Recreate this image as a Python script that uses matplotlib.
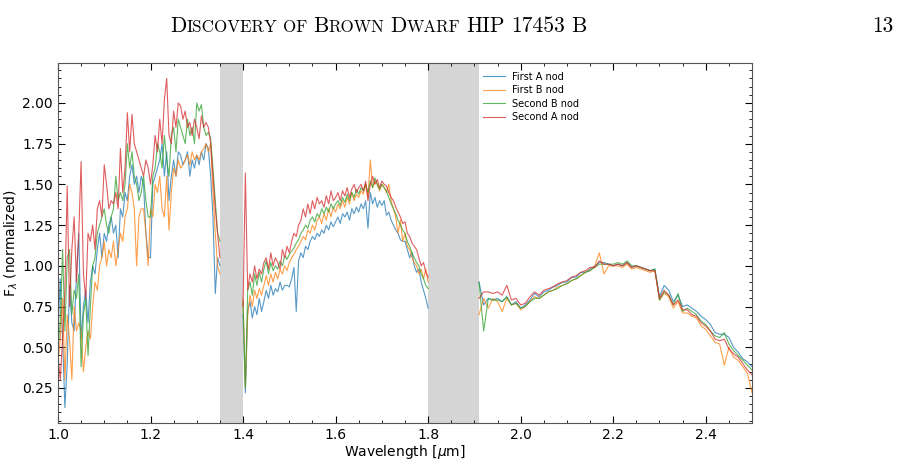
import numpy as np
import matplotlib
matplotlib.use("Agg")
import matplotlib.pyplot as plt
from matplotlib.ticker import AutoMinorLocator, MultipleLocator

# wavelength grids of the three bands (um)
wl_j = np.linspace(1.00, 1.35, 71)
wl_h = np.linspace(1.40, 1.80, 81)
wl_k = np.linspace(1.91, 2.50, 60)

labels = ["First A nod", "First B nod", "Second B nod", "Second A nod"]
gaps = [(1.35, 1.40), (1.80, 1.91)]

# J band
first_a_j = [0.60, 0.92, 0.55, 0.13, 0.40, 0.88, 0.65, 0.60, 0.95, 1.20,
             0.55, 0.75, 0.85, 0.65, 0.90, 1.00, 0.95, 1.10, 1.20, 1.05,
             1.20, 1.15, 1.25, 1.30, 1.20, 1.25, 1.05, 1.35, 1.30, 1.45,
             1.40, 1.55, 1.62, 1.50, 1.55, 1.45, 1.55, 1.50, 1.20, 1.05,
             1.05, 1.50, 1.55, 1.60, 1.65, 1.75, 1.55, 1.70, 1.40, 1.55,
             1.65, 1.55, 1.70, 1.68, 1.62, 1.65, 1.70, 1.55, 1.65, 1.60,
             1.68, 1.62, 1.70, 1.65, 1.75, 1.72, 1.55, 1.30, 0.83, 1.05,
             1.00]
first_b_j = [0.40, 0.55, 0.80, 0.30, 0.70, 0.55, 0.30, 0.75, 0.60, 0.65,
             0.60, 0.35, 0.50, 0.60, 0.55, 0.75, 0.90, 0.85, 1.00, 1.05,
             1.15, 1.00, 1.10, 1.05, 1.15, 1.00, 1.10, 1.20, 1.15, 1.30,
             1.35, 1.50, 1.45, 1.35, 1.00, 1.30, 1.35, 1.35, 1.20, 1.00,
             1.35, 1.30, 1.50, 1.45, 1.55, 1.35, 1.30, 1.55, 1.22, 1.45,
             1.60, 1.55, 1.65, 1.60, 1.62, 1.65, 1.68, 1.62, 1.70, 1.65,
             1.68, 1.65, 1.70, 1.72, 1.75, 1.70, 1.75, 1.45, 1.20, 1.00,
             0.95]
second_b_j = [0.50, 0.65, 1.10, 0.60, 1.05, 1.10, 0.70, 0.85, 0.80, 0.95,
              0.38, 0.70, 0.80, 0.45, 0.75, 1.00, 1.05, 1.20, 1.25, 1.30,
              1.35, 1.25, 1.20, 1.30, 1.35, 1.55, 1.40, 1.45, 1.40, 1.50,
              1.75, 1.60, 1.70, 1.55, 1.50, 1.40, 1.45, 1.55, 1.40, 1.30,
              1.30, 1.55, 1.60, 1.75, 1.70, 1.60, 1.80, 1.65, 1.55, 1.80,
              1.85, 1.70, 1.90, 1.85, 1.80, 1.75, 1.90, 1.80, 1.85, 1.75,
              2.00, 1.95, 1.99, 1.85, 1.80, 1.82, 1.78, 1.60, 1.40, 1.20,
              1.15]
second_a_j = [0.45, 0.30, 0.55, 0.85, 1.49, 0.75, 1.10, 1.30, 0.90, 1.20,
              1.64, 0.95, 0.80, 1.20, 1.15, 1.25, 1.10, 1.35, 1.40, 1.30,
              1.62, 1.50, 1.35, 1.40, 1.38, 1.45, 1.35, 1.72, 1.45, 1.60,
              1.94, 1.70, 1.93, 1.75, 1.70, 1.65, 1.60, 1.55, 1.65, 1.60,
              1.50, 1.62, 1.80, 1.70, 1.90, 1.75, 2.02, 2.15, 1.80, 1.75,
              1.95, 1.85, 2.00, 1.98, 1.90, 1.95, 1.85, 1.88, 1.80, 1.90,
              1.85, 1.78, 1.92, 1.85, 1.88, 1.85, 1.75, 1.55, 1.35, 1.20,
              1.05]

# H band
first_a_h = [0.70, 0.22, 0.72, 0.78, 0.68, 0.75, 0.70, 0.80, 0.72, 0.78,
             0.85, 0.80, 0.88, 0.82, 0.86, 0.84, 0.90, 0.85, 0.88, 0.88,
             0.87, 0.92, 0.99, 0.72, 1.03, 1.08, 1.05, 1.12, 1.10, 1.15,
             1.18, 1.16, 1.20, 1.18, 1.22, 1.20, 1.25, 1.22, 1.27, 1.24,
             1.27, 1.30, 1.26, 1.32, 1.30, 1.33, 1.28, 1.35, 1.32, 1.36,
             1.33, 1.38, 1.35, 1.40, 1.23, 1.45, 1.38, 1.42, 1.36, 1.40,
             1.37, 1.40, 1.31, 1.33, 1.28, 1.25, 1.22, 1.20, 1.16, 1.15,
             1.15, 1.10, 1.05, 1.08, 1.00, 0.96, 0.98, 0.90, 0.85, 0.80,
             0.74]
first_b_h = [0.80, 0.25, 0.70, 0.82, 0.75, 0.85, 0.80, 0.86, 0.82, 0.88,
             0.94, 0.88, 0.95, 0.90, 0.96, 0.92, 0.98, 0.95, 1.00, 0.97,
             1.02, 1.05, 1.07, 1.10, 1.12, 1.15, 1.18, 1.16, 1.22, 1.20,
             1.25, 1.22, 1.28, 1.30, 1.26, 1.32, 1.28, 1.35, 1.30, 1.36,
             1.33, 1.38, 1.35, 1.40, 1.36, 1.42, 1.38, 1.45, 1.40, 1.44,
             1.42, 1.46, 1.44, 1.50, 1.42, 1.65, 1.48, 1.52, 1.50, 1.46,
             1.50, 1.48, 1.45, 1.50, 1.40, 1.35, 1.30, 1.20, 1.28, 1.15,
             1.20, 1.12, 1.10, 1.05, 1.02, 1.00, 0.95, 0.98, 0.92, 0.98,
             0.90]
second_b_h = [0.78, 0.25, 0.85, 0.90, 0.82, 0.95, 0.88, 0.96, 0.90, 0.98,
              1.03, 0.95, 1.02, 0.97, 1.00, 0.98, 1.03, 1.00, 1.06, 1.04,
              1.07, 1.09, 1.11, 1.14, 1.16, 1.20, 1.22, 1.25, 1.23, 1.28,
              1.30, 1.27, 1.32, 1.30, 1.35, 1.32, 1.36, 1.33, 1.38, 1.35,
              1.38, 1.40, 1.37, 1.42, 1.39, 1.44, 1.40, 1.45, 1.42, 1.47,
              1.44, 1.48, 1.46, 1.50, 1.45, 1.52, 1.48, 1.54, 1.50, 1.47,
              1.50, 1.48, 1.46, 1.42, 1.38, 1.35, 1.32, 1.28, 1.25, 1.22,
              1.20, 1.15, 1.12, 1.08, 1.05, 1.02, 1.00, 0.95, 0.92, 0.88,
              0.86]
second_a_h = [0.75, 1.57, 0.85, 0.95, 0.90, 1.00, 0.92, 0.98, 0.95, 1.02,
              1.05, 0.98, 1.08, 1.00, 1.05, 1.02, 0.98, 1.10, 1.05, 1.12,
              1.08, 1.15, 1.20, 1.18, 1.25, 1.28, 1.35, 1.30, 1.38, 1.32,
              1.40, 1.35, 1.42, 1.38, 1.40, 1.36, 1.43, 1.38, 1.46, 1.40,
              1.42, 1.45, 1.40, 1.46, 1.43, 1.48, 1.42, 1.47, 1.50, 1.45,
              1.48, 1.50, 1.46, 1.52, 1.40, 1.50, 1.55, 1.50, 1.53, 1.48,
              1.52, 1.50, 1.49, 1.45, 1.42, 1.40, 1.36, 1.33, 1.30, 1.26,
              1.27, 1.20, 1.18, 1.14, 1.12, 1.10, 1.05, 1.00, 1.02, 0.96,
              0.93]

# K band
first_a_k = [0.90, 0.76, 0.80, 0.79, 0.80, 0.78, 0.81, 0.76, 0.78, 0.74,
             0.76, 0.79, 0.83, 0.81, 0.84, 0.85, 0.87, 0.88, 0.90, 0.90,
             0.93, 0.93, 0.96, 0.96, 0.98, 1.00, 1.02, 1.02, 1.01, 1.00,
             1.01, 1.00, 1.02, 0.99, 1.00, 0.99, 0.98, 0.97, 0.98, 0.81,
             0.88, 0.85, 0.78, 0.82, 0.75, 0.76, 0.74, 0.72, 0.69, 0.67,
             0.64, 0.59, 0.58, 0.58, 0.56, 0.50, 0.47, 0.43, 0.41, 0.38]
first_b_k = [0.70, 0.80, 0.74, 0.80, 0.78, 0.72, 0.80, 0.76, 0.77, 0.73,
             0.75, 0.78, 0.81, 0.80, 0.82, 0.84, 0.85, 0.87, 0.88, 0.89,
             0.91, 0.92, 0.94, 0.96, 0.97, 1.00, 1.08, 0.95, 1.00, 1.00,
             1.00, 0.99, 1.01, 0.98, 0.99, 0.98, 0.97, 0.96, 0.97, 0.79,
             0.83, 0.81, 0.74, 0.78, 0.71, 0.71, 0.69, 0.68, 0.63, 0.61,
             0.57, 0.53, 0.52, 0.39, 0.50, 0.44, 0.42, 0.38, 0.34, 0.22]
second_b_k = [0.90, 0.60, 0.80, 0.79, 0.79, 0.78, 0.81, 0.76, 0.77, 0.74,
              0.75, 0.78, 0.80, 0.80, 0.82, 0.84, 0.85, 0.86, 0.88, 0.89,
              0.91, 0.92, 0.94, 0.96, 0.97, 0.99, 1.01, 1.01, 1.01, 1.01,
              1.02, 1.01, 1.03, 1.00, 1.00, 0.99, 0.98, 0.97, 0.98, 0.79,
              0.84, 0.82, 0.76, 0.83, 0.72, 0.74, 0.72, 0.70, 0.66, 0.64,
              0.60, 0.57, 0.56, 0.59, 0.52, 0.48, 0.45, 0.42, 0.39, 0.36]
second_a_k = [0.80, 0.84, 0.84, 0.83, 0.84, 0.82, 0.88, 0.79, 0.80, 0.76,
              0.77, 0.81, 0.84, 0.82, 0.85, 0.86, 0.87, 0.89, 0.90, 0.91,
              0.93, 0.94, 0.96, 0.97, 0.99, 0.99, 1.03, 1.01, 1.01, 1.00,
              1.01, 1.00, 1.02, 0.99, 1.00, 0.99, 0.98, 0.97, 0.97, 0.80,
              0.85, 0.82, 0.76, 0.79, 0.73, 0.73, 0.70, 0.69, 0.65, 0.63,
              0.60, 0.55, 0.54, 0.55, 0.49, 0.46, 0.44, 0.40, 0.36, 0.33]

series = [(first_a_j, first_a_h, first_a_k),
          (first_b_j, first_b_h, first_b_k),
          (second_b_j, second_b_h, second_b_k),
          (second_a_j, second_a_h, second_a_k)]


def join(j, h, k):
    # nan between bands so the line breaks across the shaded gaps
    wl = np.concatenate([wl_j, [np.nan], wl_h, [np.nan], wl_k])
    fl = np.concatenate([j, [np.nan], h, [np.nan], k])
    return wl, fl


fig = plt.figure(figsize=(9, 4.62), dpi=100)
ax = fig.add_axes([0.0644, 0.0844, 0.7712, 0.7792])

for lo, hi in gaps:
    ax.axvspan(lo, hi, color="lightgray", alpha=0.95, lw=0, zorder=0)

for (j, h, k), lab in zip(series, labels):
    wl, fl = join(j, h, k)
    ax.plot(wl, fl, lw=0.8, alpha=0.75, label=lab)

ax.set_xlim(1.0, 2.5)
ax.set_ylim(0.035, 2.245)
ax.xaxis.set_major_locator(MultipleLocator(0.2))
ax.yaxis.set_major_locator(MultipleLocator(0.25))
ax.xaxis.set_minor_locator(AutoMinorLocator(4))
ax.yaxis.set_minor_locator(AutoMinorLocator(5))
ax.tick_params(which="both", direction="in", top=True, right=True, labelsize=10)
ax.tick_params(which="major", length=5)
ax.tick_params(which="minor", length=2.5)
for sp in ax.spines.values():
    sp.set_color("#555555")

ax.set_xlabel(r"Wavelength [$\mu$m]", fontsize=10, labelpad=1)
ax.set_ylabel(r"F$_\lambda$ (normalized)", fontsize=10, labelpad=2)

ax.legend(loc="upper left", bbox_to_anchor=(0.6, 1.0), frameon=False,
          fontsize=7, handlelength=2.2, labelspacing=0.35)

# running page header in small caps
header = [("D", 15.5), ("ISCOVERY", 12.2), ("OF", 12.2), ("B", 15.5), ("ROWN", 12.2),
          ("D", 15.5), ("WARF", 12.2), ("HIP", 15.5), ("17453", 15.5), ("B", 15.5)]
space_after = [0, 1, 1, 0, 1, 0, 1, 1, 1, 0]
renderer = fig.canvas.get_renderer()
x = 170
for (txt, size), sp in zip(header, space_after):
    t = fig.text(x / 900, 1 - 32 / 462, txt, fontsize=size, family="cmr10",
                 va="baseline", ha="left")
    x += t.get_window_extent(renderer).width + sp * 6
fig.text(893 / 900, 1 - 32 / 462, "13", fontsize=15.5, family="cmr10",
         va="baseline", ha="right")

fig.savefig("out.png", dpi=100)
